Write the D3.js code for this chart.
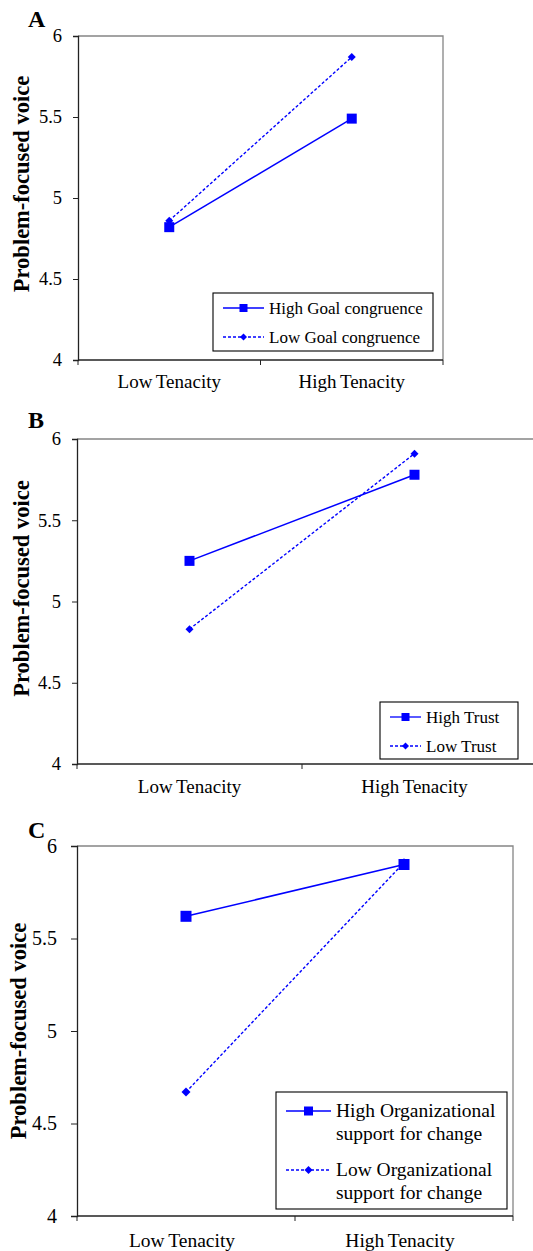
<!DOCTYPE html>
<html>
<head>
<meta charset="utf-8">
<script src="https://cdn.jsdelivr.net/npm/d3@7"></script>
<style>
  body { margin: 0; background: #fff; }
  svg { display: block; }
  svg text { font-family: "Liberation Serif", "Times New Roman", serif; fill: #000; }
</style>
</head>
<body>
<svg id="chart" width="533" height="1251"></svg>
<script>
// values
var categories = ["Low Tenacity", "High Tenacity"];
var yTicks = [4, 4.5, 5, 5.5, 6];

var highGoal = [4.82, 5.49];
var lowGoal = [4.86, 5.87];
var goalNames = ["High Goal congruence", "Low Goal congruence"];

var highTrust = [5.25, 5.78];
var lowTrust = [4.83, 5.91];
var trustNames = ["High Trust", "Low Trust"];

var highSupport = [5.62, 5.90];
var lowSupport = [4.67, 5.91];
var supportNames = [["High Organizational", "support for change"], ["Low Organizational", "support for change"]];

var BLUE = "#0000ff";
var SERIF = '"Liberation Serif", "Times New Roman", serif';
var svg = d3.select("#chart");

function drawPanel(p) {
    var g = svg.append("g");

    var x = d3.scaleBand().domain(categories).range([p.left, p.right]);
    var y = d3.scaleLinear().domain([4, 6]).range([p.bottom, p.top]);
    var cx = function (c) { return x(c) + x.bandwidth() / 2; };
    var edge = p.clipped ? 533 : p.right;

    // grey frame top/right (panel B runs off the page edge)
    g.append("path")
        .attr("d", "M" + p.left + "," + p.top + "H" + edge + (p.clipped ? "" : "V" + p.bottom))
        .attr("fill", "none").attr("stroke", "#858585").attr("stroke-width", 1.3);

    // y axis
    var ya = g.append("g")
        .attr("transform", "translate(" + p.left + ",0)")
        .call(d3.axisLeft(y).tickValues(yTicks).tickSize(p.tickLen).tickPadding(p.tickPad).tickFormat(d3.format("")))
        .attr("font-family", SERIF).attr("font-size", p.tickFont);
    ya.select(".domain").attr("stroke", "#222").attr("stroke-width", 1.3);
    ya.selectAll(".tick line").attr("stroke", "#222");
    ya.selectAll("text").attr("fill", "#000");

    // x axis: ticks on the band boundaries
    var xa = g.append("g")
        .attr("transform", "translate(0," + p.bottom + ")");
    xa.append("line").attr("x1", p.left).attr("x2", edge)
        .attr("stroke", "#222").attr("stroke-width", 1.3);
    var bounds = categories.map(function (c) { return x(c); });
    if (!p.clipped) bounds.push(p.right);
    xa.selectAll(".bt").data(bounds).enter().append("line")
        .attr("x1", function (d) { return d; }).attr("x2", function (d) { return d; })
        .attr("y1", 0).attr("y2", 5).attr("stroke", "#222");
    xa.selectAll(".cat").data(categories).enter().append("text")
        .attr("x", function (d) { return cx(d) + p.catDx; })
        .attr("y", p.catDy)
        .attr("text-anchor", "middle")
        .attr("font-size", p.catFont)
        .attr("word-spacing", "-1px")
        .text(function (d) { return d; });

    // axis title
    g.append("text")
        .attr("transform", "translate(" + p.titleX + "," + ((p.top + p.bottom) / 2 + p.titleDy) + ") rotate(-90)")
        .attr("text-anchor", "middle")
        .attr("font-weight", "bold")
        .attr("font-size", 22.5)
        .text("Problem-focused voice");

    // panel letter
    g.append("text")
        .attr("x", 28).attr("y", p.letterY)
        .attr("font-weight", "bold").attr("font-size", 24)
        .text(p.letter);

    var line = d3.line()
        .x(function (d, i) { return cx(categories[i]); })
        .y(function (d) { return y(d); });

    // low series (dashed, diamonds)
    g.append("path").datum(p.low).attr("d", line)
        .attr("fill", "none").attr("stroke", BLUE).attr("stroke-width", 1.4)
        .attr("stroke-dasharray", "3,2");
    // high series (solid, squares)
    g.append("path").datum(p.high).attr("d", line)
        .attr("fill", "none").attr("stroke", BLUE).attr("stroke-width", 1.5);

    var sq = p.sq, dm = p.dm;
    g.selectAll(".dm").data(p.low).enter().append("path")
        .attr("transform", function (d, i) { return "translate(" + cx(categories[i]) + "," + y(d) + ")"; })
        .attr("d", "M0,-" + dm + "L" + dm + ",0L0," + dm + "L-" + dm + ",0Z")
        .attr("fill", BLUE);
    g.selectAll(".sq").data(p.high).enter().append("rect")
        .attr("x", function (d, i) { return cx(categories[i]) - sq / 2; })
        .attr("y", function (d) { return y(d) - sq / 2; })
        .attr("width", sq).attr("height", sq)
        .attr("fill", BLUE);

    // legend
    var L = p.legend;
    var lg = g.append("g");
    lg.append("rect").attr("x", L.x).attr("y", L.y).attr("width", L.w).attr("height", L.h)
        .attr("fill", "#fff").attr("stroke", "#000").attr("stroke-width", 1.1);
    var mid = L.x + L.sample / 2 + 10;
    L.rows.forEach(function (ry, i) {
        lg.append("line").attr("x1", L.x + 10).attr("x2", L.x + 10 + L.sample)
            .attr("y1", ry).attr("y2", ry)
            .attr("stroke", BLUE).attr("stroke-width", 1.3)
            .attr("stroke-dasharray", i === 1 ? "3,2" : null);
        if (i === 0) {
            lg.append("rect").attr("x", mid - L.sq / 2).attr("y", ry - L.sq / 2)
                .attr("width", L.sq).attr("height", L.sq).attr("fill", BLUE);
        } else {
            var d = L.sq / 2 - 0.5;
            lg.append("path").attr("transform", "translate(" + mid + "," + ry + ")")
                .attr("d", "M0,-" + d + "L" + d + ",0L0," + d + "L-" + d + ",0Z").attr("fill", BLUE);
        }
        var names = [].concat(p.names[i]);
        var t = lg.append("text").attr("x", L.x + L.sample + 15).attr("y", ry + 6)
            .attr("font-size", L.font);
        names.forEach(function (n, k) {
            t.append("tspan").attr("x", L.x + L.sample + 15).attr("dy", k === 0 ? 0 : L.lineH).text(n);
        });
    });
}

drawPanel({
    letter: "A", letterY: 27,
    left: 78, right: 443, top: 36, bottom: 360,
    tickFont: 18.5, tickLen: 5, tickPad: 11, catFont: 19, catDx: 0, catDy: 28, titleX: 29, titleDy: -14,
    high: highGoal, low: lowGoal, names: goalNames, sq: 10, dm: 4,
    legend: { x: 213, y: 293, w: 220, h: 58, sample: 41, rows: [308, 337], font: 17, lineH: 0, sq: 8 }
});

drawPanel({
    letter: "B", letterY: 428, clipped: true,
    left: 77, right: 527, top: 439, bottom: 764,
    tickFont: 18.5, tickLen: 5, tickPad: 11, catFont: 19, catDx: 0, catDy: 29, titleX: 29, titleDy: -13,
    high: highTrust, low: lowTrust, names: trustNames, sq: 10, dm: 4,
    legend: { x: 380, y: 702, w: 138, h: 57, sample: 31, rows: [717, 746], font: 17, lineH: 0, sq: 8 }
});

drawPanel({
    letter: "C", letterY: 838,
    left: 77, right: 513, top: 846, bottom: 1216,
    tickFont: 20, tickLen: 6, tickPad: 14, catFont: 19.5, catDx: -4, catDy: 31, titleX: 26, titleDy: 0,
    high: highSupport, low: lowSupport, names: supportNames, sq: 11, dm: 4.5,
    legend: { x: 276, y: 1092, w: 231, h: 117, sample: 45, rows: [1111, 1170], font: 19.5, lineH: 23, sq: 9 }
});
</script>
</body>
</html>
